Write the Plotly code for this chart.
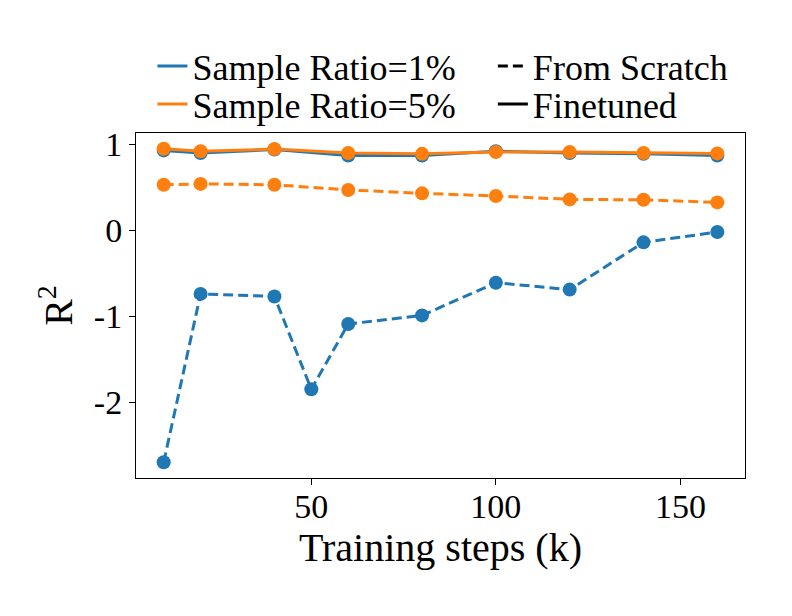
import plotly.graph_objects as go

# ---- data ----
steps_1pct = [10, 20, 40, 50, 60, 80, 100, 120, 140, 160]
scratch_1pct = [-2.70, -0.74, -0.77, -1.85, -1.09, -0.99, -0.61, -0.69, -0.14, -0.02]

steps_ft = [10, 20, 40, 60, 80, 100, 120, 140, 160]
finetuned_1pct = [0.93, 0.90, 0.94, 0.87, 0.87, 0.92, 0.90, 0.89, 0.87]
scratch_5pct = [0.53, 0.54, 0.53, 0.47, 0.43, 0.40, 0.36, 0.355, 0.325]
finetuned_5pct = [0.95, 0.92, 0.945, 0.90, 0.89, 0.91, 0.91, 0.90, 0.895]

x_tickvals = [50, 100, 150]
x_ticktext = ["50", "100", "150"]
y_tickvals = [1, 0, -1, -2]
y_ticktext = ["1", "0", "-1", "-2"]

BLUE = "#1f77b4"
ORANGE = "#ff7f0e"
FONT = "Liberation Serif"
LW = 3
MS = 14
DASH = "10px,5px"

fig = go.Figure()

def series(x, y, color, dash):
    fig.add_trace(go.Scatter(
        x=x, y=y, mode="lines+markers", showlegend=False,
        line=dict(color=color, width=LW, dash=dash),
        marker=dict(color=color, size=MS),
    ))

series(steps_1pct, scratch_1pct, BLUE, DASH)
series(steps_ft, finetuned_1pct, BLUE, "solid")
series(steps_ft, scratch_5pct, ORANGE, DASH)
series(steps_ft, finetuned_5pct, ORANGE, "solid")

# legend entries (one legend per entry for exact placement)
legend_entries = [
    ("Sample Ratio=1%", BLUE, "solid", "legend"),
    ("From Scratch", "black", DASH, "legend2"),
    ("Sample Ratio=5%", ORANGE, "solid", "legend3"),
    ("Finetuned", "black", "solid", "legend4"),
]
for name, color, dash, lg in legend_entries:
    fig.add_trace(go.Scatter(
        x=[None], y=[None], mode="lines", name=name, legend=lg,
        line=dict(color=color, width=LW, dash=dash),
    ))

# axis ranges with 5% margins as matplotlib does
all_x = steps_1pct + steps_ft
all_y = scratch_1pct + finetuned_1pct + scratch_5pct + finetuned_5pct
xr = max(all_x) - min(all_x)
yr = max(all_y) - min(all_y)
x_range = [min(all_x) - 0.05 * xr, max(all_x) + 0.05 * xr]
y_range = [min(all_y) - 0.05 * yr, max(all_y) + 0.05 * yr]

legend_font = dict(family=FONT, size=36, color="black")
def lgd(x, y):
    return dict(x=x, y=y, xanchor="left", yanchor="middle", font=legend_font,
                bgcolor="rgba(0,0,0,0)", borderwidth=0, orientation="h")

fig.update_layout(
    width=792, height=616,
    margin=dict(l=136, r=47, t=133, b=138),
    paper_bgcolor="white", plot_bgcolor="white",
    font=dict(family=FONT, color="black"),
    legend=lgd(0.027, 1.194),
    legend2=lgd(0.586, 1.194),
    legend3=lgd(0.027, 1.084),
    legend4=lgd(0.586, 1.084),
    xaxis=dict(
        range=x_range, tickvals=x_tickvals, ticktext=x_ticktext,
        showgrid=False, zeroline=False,
        showline=True, linecolor="black", linewidth=1, mirror=True,
        ticks="outside", ticklen=6, tickwidth=1, tickcolor="black",
        ticklabelstandoff=-8,
        tickfont=dict(family=FONT, size=34, color="black"),
        title=dict(text="Training steps (k)", font=dict(family=FONT, size=40, color="black"), standoff=6),
    ),
    yaxis=dict(
        range=y_range, tickvals=y_tickvals, ticktext=y_ticktext,
        showgrid=False, zeroline=False,
        showline=True, linecolor="black", linewidth=1, mirror=True,
        ticks="outside", ticklen=6, tickwidth=1, tickcolor="black",
        tickfont=dict(family=FONT, size=34, color="black"),
        title=dict(text="R<sup>2</sup>", font=dict(family=FONT, size=40, color="black"), standoff=8),
    ),
)

fig.write_html("out.html", config={"displayModeBar": False},
               post_script="document.body.style.margin='0';")
